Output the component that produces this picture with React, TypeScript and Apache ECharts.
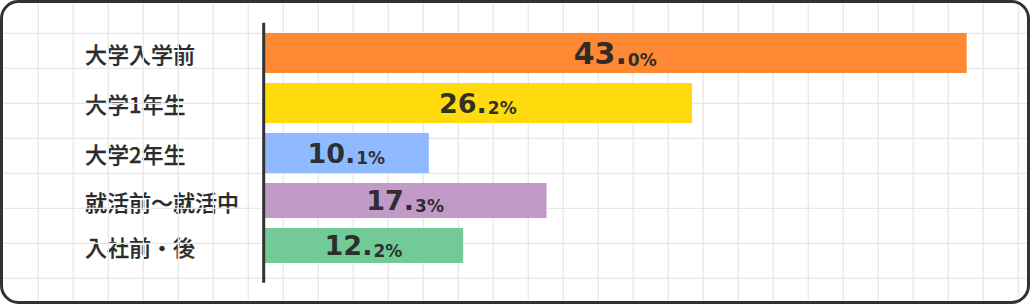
import React, { useEffect, useRef } from "react";
import * as echarts from "echarts";

const categories = ["大学入学前", "大学1年生", "大学2年生", "就活前～就活中", "入社前・後"];
const values = [43.0, 26.2, 10.1, 17.3, 12.2];
const barColors = ["#FF8229", "#FFD900", "#8AB6FF", "#BF95C5", "#6AC891"];

const W = 1030;
const H = 304;

export default function App() {
  const ref = useRef<HTMLDivElement>(null);

  useEffect(() => {
    if (!ref.current) return;
    const chart = echarts.init(ref.current, undefined, { renderer: "svg" });

    const upperCount = 3;
    const maxVal = Math.max(...values);
    const axisX = 263.7;
    const plotW = 735.7;

    const makeItem = (v: number, i: number) => {
      const big = v === maxVal ? 30 : 27;
      return {
        value: v,
        itemStyle: { color: barColors[i], opacity: 0.95 },
        label: {
          rich: {
            b: { fontSize: big, fontWeight: "bold", fontFamily: "DejaVu Sans", color: "#262626", verticalAlign: "bottom", lineHeight: big },
            s: { fontSize: 17, fontWeight: "bold", fontFamily: "DejaVu Sans", color: "#262626", verticalAlign: "bottom", lineHeight: 17, padding: [0, 0, 0, 1] },
          },
        },
      };
    };

    const fmt = (p: any) => {
      const s = Number(p.value).toFixed(1);
      const [a, b] = s.split(".");
      return `{b|${a}.}{s|${b}%}`;
    };

    const catAxis = (gi: number, data: string[]) => ({
      gridIndex: gi,
      type: "category",
      data,
      inverse: true,
      axisLine: { show: false },
      axisTick: { show: false },
      splitLine: { show: false },
      axisLabel: {
        align: "left",
        margin: axisX - 85,
        fontSize: 22,
        fontWeight: 500,
        fontFamily: "Noto Sans CJK JP",
        color: "#2b2b2b",
        textBorderColor: "#2b2b2b",
        textBorderWidth: 0.25,
      },
    });

    const valAxis = (gi: number) => ({
      gridIndex: gi,
      type: "value",
      min: 0,
      max: 45,
      show: false,
    });

    const gridEls: any[] = [];
    for (let x = 38.3; x < W - 3; x += 35) {
      gridEls.push({
        type: "line",
        z: 1,
        silent: true,
        shape: { x1: x, y1: 3, x2: x, y2: H - 3 },
        style: { stroke: "#e8e8e8", lineWidth: 1.3 },
      });
    }
    for (let y = 33.3; y < H - 3; y += 35) {
      gridEls.push({
        type: "line",
        z: 1,
        silent: true,
        shape: { x1: 3, y1: y, x2: W - 3, y2: y },
        style: { stroke: "#e8e8e8", lineWidth: 1.3 },
      });
    }

    chart.setOption({
      animation: false,
      backgroundColor: "#ffffff",
      grid: [
        { left: axisX, top: 28, width: plotW, height: 150 },
        { left: axisX, top: 178, width: plotW, height: 90 },
      ],
      xAxis: [valAxis(0), valAxis(1)],
      yAxis: [catAxis(0, categories.slice(0, upperCount)), catAxis(1, categories.slice(upperCount))],
      series: [
        {
          type: "bar",
          xAxisIndex: 0,
          yAxisIndex: 0,
          barWidth: 40,
          silent: true,
          label: { show: true, position: "inside", formatter: fmt },
          data: values.slice(0, upperCount).map((v, i) => makeItem(v, i)),
        },
        {
          type: "bar",
          xAxisIndex: 1,
          yAxisIndex: 1,
          barWidth: 35,
          silent: true,
          label: { show: true, position: "inside", formatter: fmt },
          data: values.slice(upperCount).map((v, i) => makeItem(v, i + upperCount)),
        },
      ],
      graphic: [
        {
          type: "rect",
          z: 0,
          silent: true,
          shape: { x: 1.5, y: 1.5, width: W - 3, height: H - 3, r: 17 },
          style: { fill: "#ffffff", stroke: "none" },
        },
        ...gridEls,
        {
          type: "rect",
          z: 10,
          silent: true,
          shape: { x: 1.5, y: 1.5, width: W - 3, height: H - 3, r: 17 },
          style: { fill: "none", stroke: "#333333", lineWidth: 3 },
        },
        {
          type: "line",
          z: 10,
          silent: true,
          shape: { x1: axisX, y1: 22.7, x2: axisX, y2: 282.7 },
          style: { stroke: "#333333", lineWidth: 3 },
        },
      ],
    });

    return () => chart.dispose();
  }, []);

  return (
    <div style={{ position: "fixed", left: 0, top: 0, width: W, height: H }}>
      <div ref={ref} style={{ width: W, height: H }} />
    </div>
  );
}
